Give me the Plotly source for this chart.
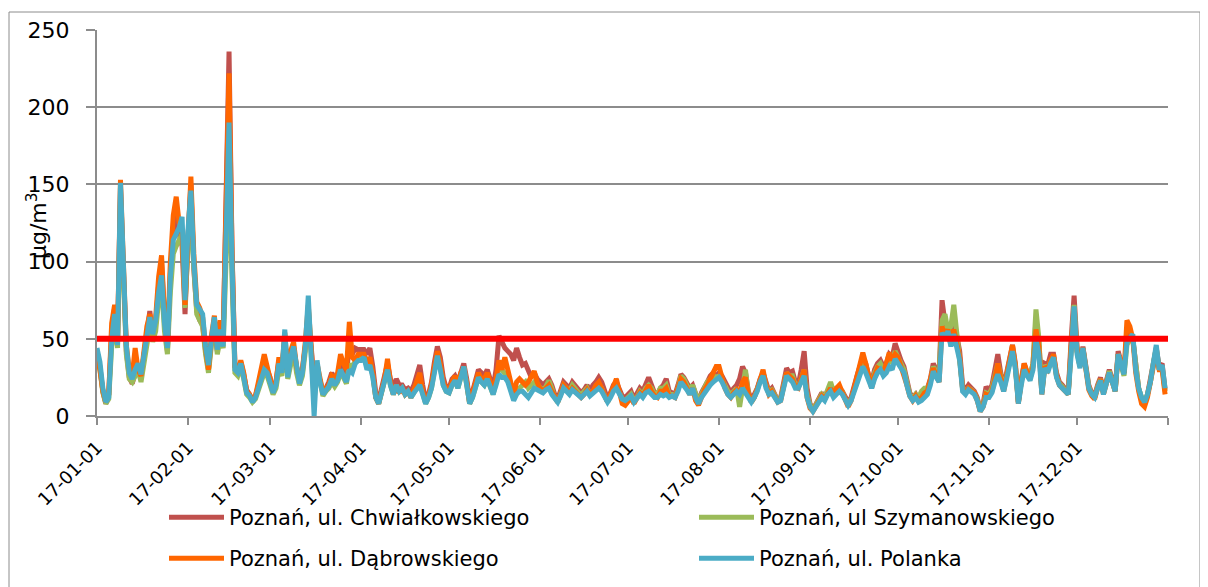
import pandas as pd
import plotly.graph_objects as go

dates = pd.date_range("2017-01-01", periods=365, freq="D")

series_names = [
    "Poznań, ul. Chwiałkowskiego",
    "Poznań, ul Szymanowskiego",
    "Poznań, ul. Dąbrowskiego",
    "Poznań, ul. Polanka",
]

chwialkowskiego = (
    [42,32,16,8,14,55,70,50,148,100,42,25,21,28,32,25,38,52,68,50,60,85,100,62,42,92,120,135,118,110,66]
    + [115,150,95,68,62,59,42,30,48,62,42,58,50,150,236,110,32,30,35,27,17,14,10,13,20,25,34,30]
    + [25,16,22,36,30,50,28,40,44,32,24,30,46,60,45,20,30,24,16,18,22,28,24,26,32,30,28,45,40,44,43]
    + [43,43,40,44,32,15,10,18,25,34,24,18,24,20,20,17,18,16,20,28,33,20,10,14,22,35,45,38,25,18]
    + [18,24,26,22,28,34,24,10,16,24,30,28,26,30,24,18,30,52,48,44,42,40,36,44,38,33,34,30,25,28,24]
    + [22,20,22,24,20,14,11,16,22,20,18,22,20,18,15,17,20,16,20,22,25,22,16,11,15,20,22,18,13,12]
    + [14,16,11,14,18,16,20,25,20,15,14,18,20,24,16,15,14,20,27,25,22,18,20,14,9,15,18,22,26,28,26]
    + [28,26,22,18,15,18,20,24,32,28,16,10,14,18,24,28,22,16,18,14,10,12,22,31,28,29,22,20,30,42,18]
    + [8,4,8,11,15,12,16,18,14,16,18,16,12,9,12,20,26,32,38,34,26,22,30,34,36,32,34,40,38,47]
    + [40,36,32,24,15,12,14,10,12,16,18,24,34,30,28,75,60,58,50,62,50,42,20,17,20,18,16,12,4,8,19]
    + [16,20,30,40,28,18,28,36,46,34,9,24,34,28,26,34,62,48,16,34,33,40,40,28,22,20,18,15,50,78]
    + [45,33,45,32,20,15,13,20,25,16,22,30,24,17,42,35,28,52,55,50,32,18,11,8,14,24,36,44,32,34,17]
)

szymanowskiego = (
    [40,30,15,8,11,45,60,44,140,90,40,24,22,26,30,22,35,50,58,48,55,75,85,55,40,80,105,110,115,118,70]
    + [110,128,90,66,62,58,40,28,46,60,40,50,44,110,160,90,28,26,32,24,14,12,9,11,17,21,28,26]
    + [20,14,18,30,26,50,24,35,42,28,20,26,42,70,40,10,32,20,13,16,18,22,19,22,28,25,21,34,30,36,38]
    + [38,38,32,36,26,12,8,15,22,30,20,14,20,16,18,14,16,12,15,20,24,15,8,12,18,30,40,32,20,16]
    + [15,20,23,18,26,32,20,8,12,20,25,22,20,24,18,14,22,32,30,28,25,18,12,16,18,20,22,18,20,22,20]
    + [18,17,19,23,18,12,9,14,20,18,16,20,18,16,13,16,18,14,16,18,20,18,13,9,13,18,20,16,11,10]
    + [12,14,10,12,16,14,18,20,18,14,14,18,18,20,14,14,13,18,26,24,20,16,20,14,9,14,18,22,24,26,25]
    + [26,24,20,16,14,16,18,6,20,30,14,9,12,17,24,28,20,16,17,14,10,11,20,28,26,26,20,19,24,30,14]
    + [7,4,7,10,14,12,18,22,16,18,18,16,11,8,11,18,22,28,36,30,24,20,28,32,34,30,32,38,34,42]
    + [38,34,30,22,14,11,14,12,16,18,18,22,32,28,30,62,66,55,58,72,52,40,18,16,18,17,15,11,4,7,15]
    + [14,18,26,34,26,18,26,34,44,32,9,22,32,28,26,34,69,50,15,33,30,36,38,26,21,19,17,14,44,72]
    + [42,32,44,31,19,14,12,19,24,15,21,29,23,16,40,34,26,46,50,50,30,18,12,9,14,22,34,44,30,32,16]
)

dabrowskiego = (
    [38,30,16,9,14,60,72,50,153,100,46,30,26,44,30,26,42,58,66,55,64,90,104,65,46,100,130,142,125,120,72]
    + [118,155,105,74,70,64,44,30,52,65,44,62,52,150,222,108,32,28,36,28,16,14,10,13,22,30,40,32]
    + [24,16,22,38,30,54,28,42,48,32,24,30,48,72,44,15,34,24,15,18,20,26,24,28,40,34,30,61,38,36,40]
    + [40,40,34,38,28,12,8,16,24,37,22,14,20,15,18,14,16,12,17,24,28,16,9,13,20,32,42,34,22,18]
    + [16,22,26,20,28,30,22,8,14,22,28,24,24,28,22,16,24,36,30,38,30,20,14,22,24,22,20,22,26,29,22]
    + [18,16,18,20,16,12,9,14,20,18,15,18,16,15,12,14,17,14,16,20,22,18,13,9,14,20,24,16,8,7]
    + [10,12,8,12,15,13,17,20,16,13,12,16,16,18,13,13,12,17,24,22,18,14,18,10,7,13,17,20,24,28,32]
    + [32,24,18,14,12,15,17,15,22,25,14,9,12,17,24,30,20,14,16,12,9,10,20,28,26,24,19,18,24,30,12]
    + [5,3,6,10,13,11,15,18,14,18,20,15,10,6,10,18,24,32,41,34,24,18,26,31,30,28,34,41,36,40]
    + [38,32,28,20,13,10,13,10,12,15,16,24,31,26,22,58,52,56,46,56,48,38,17,15,18,16,15,10,3,6,14]
    + [13,16,24,34,24,16,26,36,46,32,8,22,34,28,24,32,56,45,14,32,30,36,40,26,20,18,16,14,45,68]
    + [42,32,44,30,17,13,11,18,24,14,20,28,22,16,40,33,28,62,58,50,28,16,8,6,12,22,34,42,30,30,14]
)

polanka = (
    [44,35,18,9,12,50,66,46,151,95,45,28,24,30,34,27,40,55,64,53,62,80,91,60,44,90,114,118,122,129,75]
    + [120,146,100,72,69,66,45,33,50,64,43,56,45,120,190,100,30,28,34,25,15,13,9,12,18,22,30,28]
    + [22,15,20,34,28,56,25,38,45,30,21,28,45,78,40,0,36,22,14,17,19,24,20,23,30,26,22,30,28,34,36]
    + [36,38,30,33,25,12,8,15,22,30,20,14,20,16,18,14,16,12,15,18,20,14,8,12,18,28,39,30,20,16]
    + [15,20,23,18,26,32,20,8,12,20,25,22,20,24,18,14,20,27,25,25,22,15,10,14,16,16,14,12,15,18,17]
    + [16,15,17,18,14,11,9,13,18,16,14,17,15,14,12,14,16,13,15,17,18,16,12,9,12,16,18,15,11,10]
    + [12,13,9,11,14,12,15,16,14,12,12,14,13,14,12,13,12,16,22,20,17,14,18,12,8,12,15,18,20,22,24]
    + [25,22,18,14,12,14,16,14,18,15,12,9,12,16,22,26,18,14,15,12,9,10,18,26,24,22,18,18,22,26,12]
    + [6,3,6,9,12,10,14,16,12,14,16,14,10,7,10,16,20,26,32,28,22,18,24,28,30,26,28,32,30,37]
    + [34,31,28,20,13,10,12,9,10,12,14,20,29,25,22,54,50,55,45,53,45,36,16,14,17,15,14,10,3,6,12]
    + [12,15,22,27,22,16,24,32,42,30,8,20,30,26,23,30,50,40,14,31,28,34,38,25,20,18,16,14,40,71]
    + [40,31,44,30,18,14,12,18,23,14,20,28,22,16,40,34,27,48,50,53,30,18,12,9,14,22,34,46,30,33,18]
)

limit_value = 50

tick_dates = [
    "2017-01-01", "2017-02-01", "2017-03-01", "2017-04-01", "2017-05-01", "2017-06-01",
    "2017-07-01", "2017-08-01", "2017-09-01", "2017-10-01", "2017-11-01", "2017-12-01",
    "2018-01-01",
]
tick_labels = [
    "17-01-01", "17-02-01", "17-03-01", "17-04-01", "17-05-01", "17-06-01",
    "17-07-01", "17-08-01", "17-09-01", "17-10-01", "17-11-01", "17-12-01", "",
]

for s in (chwialkowskiego, szymanowskiego, dabrowskiego, polanka):
    assert len(s) == 365, len(s)

colors = ["#c0504d", "#9bbb59", "#ff6600", "#4bacc6"]
values = [chwialkowskiego, szymanowskiego, dabrowskiego, polanka]
legend_ids = ["legend", "legend2", "legend3", "legend4"]

FONT = "DejaVu Sans"
GRAY = "#8c8c8c"

# The page body adds an 8px offset, so the figure is 8px smaller and
# all target pixel positions are given in screenshot coordinates.
OFF = 8
W, H = 1200, 579
ml, mr, mt, mb = 89, 40, 22, 171
pw, ph = W - ml - mr, H - mt - mb


def px_x(p):
    return (p - OFF - ml) / pw


def px_y(p):
    return (H - mb - (p - OFF)) / ph


fig = go.Figure()
for name, vals, col, lg in zip(series_names, values, colors, legend_ids):
    fig.add_trace(go.Scatter(
        x=dates, y=vals, name=name, mode="lines",
        line=dict(color=col, width=5),
        legend=lg,
    ))

fig.add_shape(type="line", xref="x domain", yref="y", x0=0, x1=1,
              y0=limit_value, y1=limit_value,
              line=dict(color="#ff0000", width=6), layer="above")

# outer chart border
fig.add_shape(type="rect", xref="paper", yref="paper",
              x0=px_x(9), x1=px_x(1200), y0=px_y(600), y1=px_y(12),
              line=dict(color=GRAY, width=1), layer="below")

fig.add_annotation(text="µg/m<sup>3</sup>", xref="paper", yref="paper",
                   x=px_x(37), y=px_y(226), xanchor="center", yanchor="middle",
                   textangle=-90, showarrow=False,
                   font=dict(family=FONT, size=22, color="#000000"))

legend_pos = {
    "legend": (164, 497),
    "legend2": (694, 497),
    "legend3": (164, 538),
    "legend4": (694, 538),
}
legend_layout = {}
for lg, (lx, ly) in legend_pos.items():
    legend_layout[lg] = dict(
        orientation="h", x=px_x(lx), y=px_y(ly), xanchor="left", yanchor="top",
        itemwidth=55, font=dict(family=FONT, size=21, color="#000000"),
        bgcolor="rgba(0,0,0,0)",
    )

fig.update_layout(
    width=W, height=H,
    margin=dict(l=ml, r=mr, t=mt, b=mb, autoexpand=False),
    paper_bgcolor="white", plot_bgcolor="white",
    font=dict(family=FONT, color="#000000"),
    showlegend=True,
    **legend_layout,
)

fig.update_xaxes(
    type="date", range=["2017-01-01", "2018-01-01"],
    tickmode="array", tickvals=tick_dates, ticktext=tick_labels,
    tickangle=-45, ticks="outside", ticklen=7, tickcolor=GRAY, tickwidth=2,
    ticklabelstandoff=5,
    showline=True, linecolor=GRAY, linewidth=2, showgrid=False, zeroline=False,
    tickfont=dict(family=FONT, size=18, color="#000000"),
)
fig.update_yaxes(
    range=[0, 250], dtick=50, tick0=0,
    showgrid=True, gridcolor=GRAY, gridwidth=2,
    showline=True, linecolor=GRAY, linewidth=2, zeroline=False,
    ticks="outside", ticklen=9, tickcolor=GRAY, tickwidth=2, ticklabelstandoff=12,
    tickfont=dict(family=FONT, size=22, color="#000000"),
)

fig.write_html("out.html")
